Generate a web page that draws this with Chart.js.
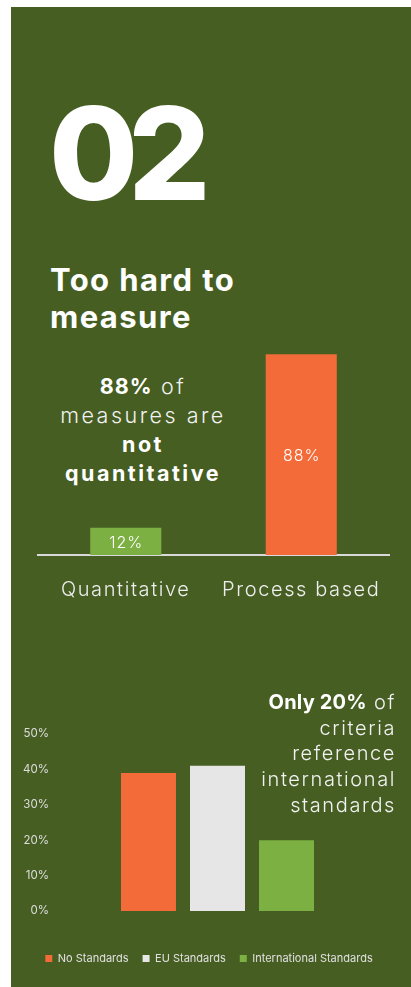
<!DOCTYPE html>
<html>
<head>
<meta charset="utf-8">
<script src="https://cdn.jsdelivr.net/npm/chart.js@4.4.1/dist/chart.umd.min.js"></script>
<style>
  html, body { margin: 0; padding: 0; background: #ffffff; width: 411px; height: 987px; overflow: hidden; }
  body { position: relative; font-family: "Inter", "Open Sans", sans-serif; }
  #panel { position: absolute; left: 11px; top: 7px; width: 400px; height: 980px; background: #465e22; }
  .txt { position: absolute; color: #f2f2f2; white-space: nowrap; }
  #num { left: 49px; top: 89px; font-size: 129px; font-weight: 800; line-height: 1; color: #ffffff; letter-spacing: -10px; }
  #title { left: 50px; top: 261px; font-size: 31px; font-weight: 700; line-height: 37px; color: #ffffff; letter-spacing: 1.4px; }
  #note1 { left: 41px; width: 204px; top: 372px; text-align: center; font-size: 21.5px; font-weight: 300; line-height: 29px; letter-spacing: 2.5px; }
  #note2 { right: 15px; top: 690px; text-align: right; font-size: 20px; font-weight: 300; line-height: 25.7px; letter-spacing: 1.6px; }
  b { font-weight: 700; color: #ffffff; }
  #note2 b { letter-spacing: 0.2px; }
  #note1 b.pct { letter-spacing: 1px; }
  #c1wrap { position: absolute; left: 0; top: 310px; width: 411px; height: 300px; }
  #c2wrap { position: absolute; left: 7px; top: 690px; width: 404px; height: 297px; }
</style>
</head>
<body>
<div id="panel"></div>
<div class="txt" id="num">02</div>
<div class="txt" id="title">Too hard to<br>measure</div>
<div class="txt" id="note1"><b class="pct">88%</b> of<br>measures are<br><b>not</b><br><b>quantitative</b></div>
<div id="c1wrap"><canvas id="c1"></canvas></div>
<div id="c2wrap"><canvas id="c2"></canvas></div>
<div class="txt" id="note2"><b>Only 20%</b> of<br>criteria<br>reference<br>international<br>standards</div>
<script>
const FONT = '"Inter", "Open Sans", sans-serif';

// Chart 1: share of measures by type
const measureTypes = ['Quantitative', 'Process based'];
const measureShares = [12, 88];

// Chart 2: criteria by referenced standard
const standardNames = ['No Standards', 'EU Standards', 'International Standards'];
const standardShares = [39, 41, 20];
const shareTicks = [0, 10, 20, 30, 40, 50];

const ORANGE = '#f26b38';
const LIGHTGREEN = '#7db043';
const GREY = '#e6e6e6';

// Widens the letter spacing of all canvas text for a chart
const textSpacing = {
  id: 'textSpacing',
  beforeDraw(chart, args, opts) {
    chart.ctx.letterSpacing = (opts.px || 0) + 'px';
  }
};

// Writes each bar's value in the middle of the bar
const barValueLabels = {
  id: 'barValueLabels',
  afterDatasetsDraw(chart, args, opts) {
    if (!opts.enabled) return;
    const ctx = chart.ctx;
    ctx.save();
    ctx.letterSpacing = '1px';
    ctx.font = '300 16px ' + FONT;
    ctx.fillStyle = '#ffffff';
    ctx.textAlign = 'center';
    ctx.textBaseline = 'middle';
    chart.data.datasets.forEach((ds, di) => {
      chart.getDatasetMeta(di).data.forEach((bar, i) => {
        const y = (bar.y + bar.base) / 2;
        ctx.fillText(ds.data[i] + '%', bar.x + 0.5, y + 1.5);
      });
    });
    ctx.restore();
  }
};

new Chart(document.getElementById('c1'), {
  type: 'bar',
  data: {
    labels: measureTypes,
    datasets: [{
      data: measureShares,
      backgroundColor: [LIGHTGREEN, ORANGE],
      borderWidth: 0,
      categoryPercentage: 1,
      barPercentage: 0.405
    }]
  },
  options: {
    responsive: true,
    maintainAspectRatio: false,
    animation: false,
    events: [],
    layout: { padding: { left: 38, right: 22, top: 17, bottom: 0 } },
    plugins: {
      legend: { display: false },
      tooltip: { enabled: false },
      barValueLabels: { enabled: true },
      textSpacing: { px: 1.6 }
    },
    scales: {
      x: {
        grid: { display: false, drawTicks: false },
        border: { display: true, color: '#d9d9d9', width: 2 },
        ticks: { color: '#eeeeee', padding: 23, font: { family: FONT, size: 20, weight: 300 } },
        afterFit(s) { s.height = 55; }
      },
      y: { display: false, min: 0, max: 100 }
    }
  },
  plugins: [textSpacing, barValueLabels]
});

new Chart(document.getElementById('c2'), {
  type: 'bar',
  data: {
    labels: [''],
    datasets: standardNames.map((name, i) => ({
      label: name,
      data: [standardShares[i]],
      backgroundColor: [ORANGE, GREY, LIGHTGREEN][i],
      borderWidth: 0,
      categoryPercentage: 0.649,
      barPercentage: 0.797
    }))
  },
  options: {
    responsive: true,
    maintainAspectRatio: false,
    animation: false,
    events: [],
    layout: { padding: { left: 0, right: 0, top: 44, bottom: 13 } },
    plugins: {
      tooltip: { enabled: false },
      barValueLabels: { enabled: false },
      legend: {
        position: 'bottom',
        labels: {
          boxWidth: 7, boxHeight: 7, padding: 14,
          color: '#e0e0e0',
          font: { family: FONT, size: 11 }
        }
      }
    },
    scales: {
      x: {
        grid: { display: false, drawTicks: false },
        border: { display: false },
        ticks: { display: false },
        afterFit(s) { s.height = 28; }
      },
      y: {
        min: 0, max: 50,
        grid: { display: false, drawTicks: false },
        border: { display: false },
        afterBuildTicks(s) { s.ticks = shareTicks.map(v => ({ value: v })); },
        ticks: {
          color: '#dddddd', padding: 9,
          font: { family: FONT, size: 11.5 },
          callback: v => v + '%'
        },
        afterFit(s) { s.width = 51; }
      },
      yRight: {
        position: 'right',
        display: true,
        grid: { display: false, drawTicks: false },
        border: { display: false },
        ticks: { display: false },
        afterFit(s) { s.width = 34; }
      }
    }
  },
  plugins: [barValueLabels]
});
</script>
</body>
</html>
